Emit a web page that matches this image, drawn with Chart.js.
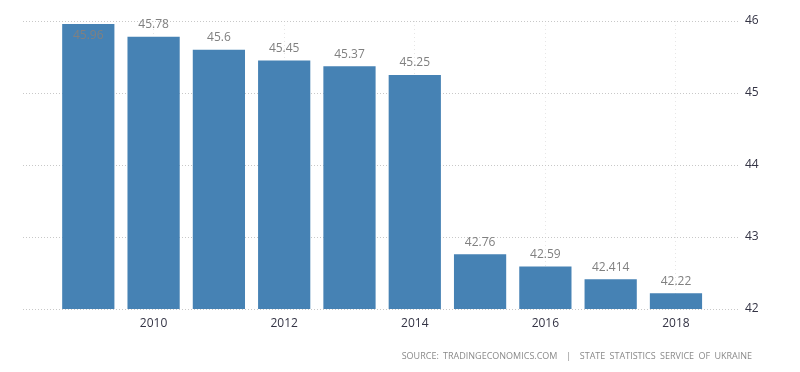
<!DOCTYPE html>
<html>
<head>
<meta charset="utf-8">
<script src="https://cdn.jsdelivr.net/npm/chart.js@4.4.0/dist/chart.umd.min.js"></script>
<style>
    html, body { margin: 0; padding: 0; background: #fff; }
    #wrap { position: relative; width: 800px; height: 372px; }
    #source {
        position: absolute;
        right: 48px;
        top: 349px;
        font-family: "Open Sans", sans-serif;
        font-size: 9px;
        letter-spacing: 0;
        word-spacing: 2px;
        color: #8a8a8a;
        white-space: pre;
    }
</style>
</head>
<body>
<div id="wrap">
    <canvas id="chart" width="800" height="372"></canvas>
    <div id="source">SOURCE: TRADINGECONOMICS.COM  |  STATE STATISTICS SERVICE OF UKRAINE</div>
</div>
<script>
// Data
const years = [2009, 2010, 2011, 2012, 2013, 2014, 2015, 2016, 2017, 2018];
const values = [45.96, 45.78, 45.6, 45.45, 45.37, 45.25, 42.76, 42.59, 42.414, 42.22];
const xTicks = [2010, 2012, 2014, 2016, 2018];
const yTicks = [42, 43, 44, 45, 46];

const barColor = '#4682b4';
const labelColor = '#808080';
const tickColor = '#333344';

// Value labels above bars (inside when there is no room at the top)
const valueLabels = {
    id: 'valueLabels',
    afterDatasetsDraw(chart) {
        const ctx = chart.ctx;
        const area = chart.chartArea;
        const meta = chart.getDatasetMeta(0);
        ctx.save();
        ctx.font = '12px "Open Sans", sans-serif';
        ctx.fillStyle = labelColor;
        ctx.textAlign = 'center';
        ctx.textBaseline = 'middle';
        meta.data.forEach(function(bar, i) {
            let y = bar.y - 12;
            if (y < area.top) {
                y = bar.y + 12;
            }
            ctx.fillText(String(values[i]), bar.x, y);
        });
        ctx.restore();
    }
};

const ctx = document.getElementById('chart').getContext('2d');

new Chart(ctx, {
    type: 'bar',
    data: {
        datasets: [{
            data: years.map((yr, i) => ({ x: yr, y: values[i] })),
            backgroundColor: barColor,
            borderWidth: 0,
            barPercentage: 1,
            categoryPercentage: 0.8
        }]
    },
    options: {
        responsive: false,
        animation: false,
        layout: {
            padding: { left: 23, top: 21, right: 0, bottom: 0 }
        },
        plugins: {
            legend: { display: false },
            tooltip: { enabled: false }
        },
        scales: {
            x: {
                type: 'linear',
                offset: false,
                min: 2008,
                max: 2018.95,
                afterBuildTicks: function(scale) {
                    scale.ticks = xTicks.map(v => ({ value: v }));
                },
                afterFit: function(scale) {
                    scale.height = 63;
                },
                grid: {
                    color: '#e6e6e6',
                    offset: false,
                    drawTicks: false
                },
                border: { display: false, dash: [1, 3] },
                ticks: {
                    padding: 7,
                    color: tickColor,
                    font: { family: '"Open Sans", sans-serif', size: 12 },
                    maxRotation: 0,
                    autoSkip: false,
                    callback: v => String(v)
                }
            },
            y: {
                position: 'right',
                min: 42,
                max: 46,
                afterBuildTicks: function(scale) {
                    scale.ticks = yTicks.map(v => ({ value: v }));
                },
                afterFit: function(scale) {
                    scale.width = 62;
                },
                grid: {
                    color: '#c8c8c8',
                    drawTicks: false
                },
                border: { display: false, dash: [1, 2] },
                ticks: {
                    padding: 7,
                    color: tickColor,
                    font: { family: '"Open Sans", sans-serif', size: 12 }
                }
            }
        }
    },
    plugins: [valueLabels]
});
</script>
</body>
</html>
